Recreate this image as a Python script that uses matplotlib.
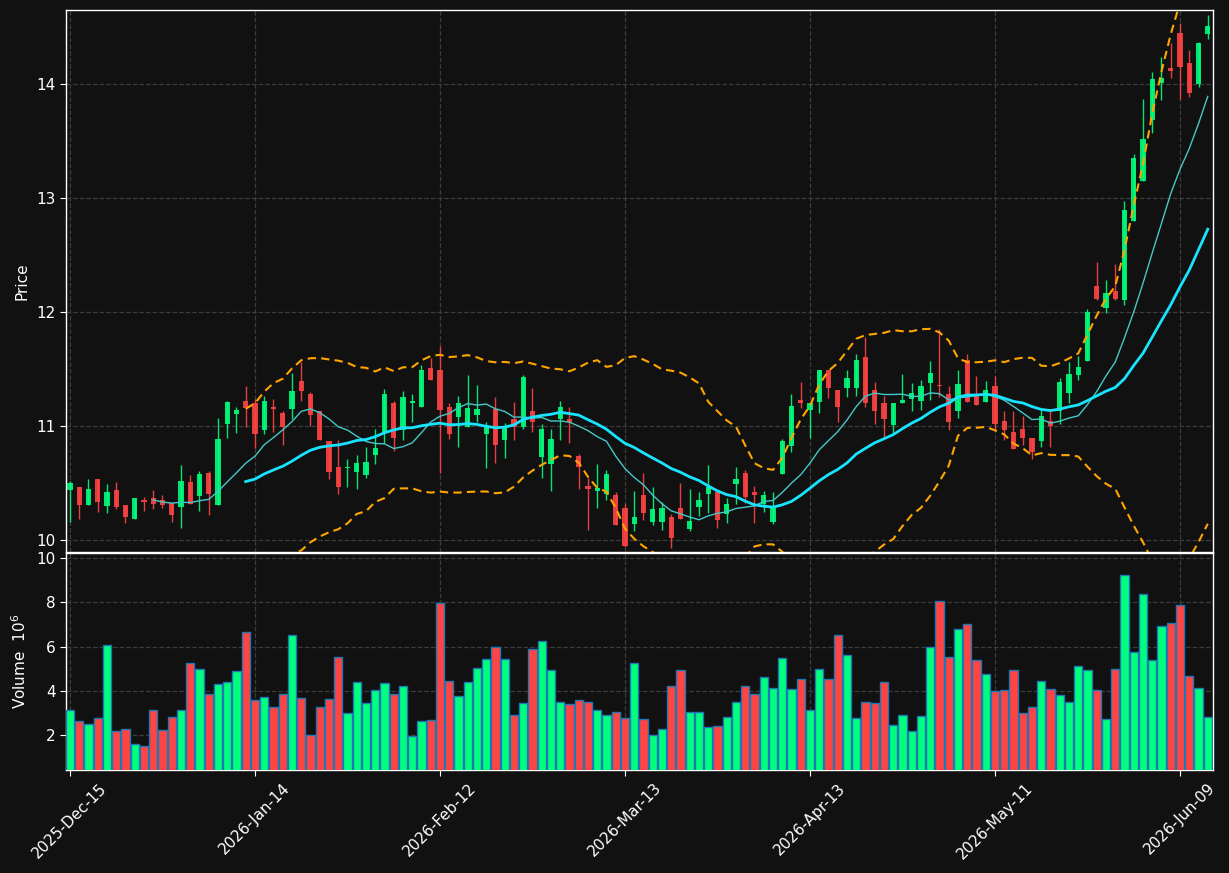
import numpy as np
import pandas as pd
import matplotlib
matplotlib.use('Agg')
import matplotlib.pyplot as plt

# trading days (NYSE holidays skipped)
holidays = ['2025-12-25', '2026-01-01', '2026-01-19', '2026-02-16', '2026-04-03', '2026-05-25']
dates = pd.bdate_range('2025-12-15', '2026-06-12', freq='C', holidays=holidays)

opens = [10.44, 10.47, 10.31, 10.54, 10.30, 10.44, 10.31, 10.19, 10.35, 10.37,
         10.35, 10.33, 10.29, 10.51, 10.39, 10.59, 10.31, 11.02, 11.11, 11.22,
         11.20, 10.97, 11.17, 11.12, 11.15, 11.40, 11.28, 11.13, 10.87, 10.64,
         10.63, 10.60, 10.57, 10.75, 10.95, 11.20, 10.97, 11.20, 11.17, 11.51,
         11.49, 11.17, 11.08, 10.99, 11.10, 10.93, 11.15, 10.88, 11.06, 10.99,
         11.13, 10.73, 10.67, 11.06, 11.06, 10.74, 10.48, 10.43, 10.41, 10.40,
         10.28, 10.14, 10.40, 10.16, 10.16, 10.20, 10.28, 10.10, 10.29, 10.41,
         10.42, 10.23, 10.49, 10.59, 10.42, 10.32, 10.16, 10.58, 10.83, 11.23,
         11.14, 11.21, 11.49, 11.32, 11.34, 11.34, 11.61, 11.32, 11.20, 11.01,
         11.20, 11.24, 11.22, 11.38, 11.36, 11.28, 11.13, 11.58, 11.27, 11.21,
         11.35, 11.05, 10.95, 10.98, 10.90, 10.87, 11.05, 11.13, 11.29, 11.45,
         11.57, 12.23, 12.04, 12.19, 12.11, 12.80, 13.15, 13.69, 14.01, 14.14,
         14.45, 14.19, 14.00, 14.44]
highs = [10.52, 10.47, 10.54, 10.54, 10.49, 10.51, 10.31, 10.37, 10.38, 10.44,
         10.40, 10.33, 10.66, 10.57, 10.61, 10.61, 11.07, 11.22, 11.17, 11.35,
         11.24, 11.27, 11.24, 11.13, 11.47, 11.56, 11.30, 11.13, 10.87, 10.88,
         10.71, 10.75, 10.82, 10.98, 11.33, 11.22, 11.31, 11.28, 11.54, 11.60,
         11.70, 11.20, 11.27, 11.45, 11.36, 11.04, 11.26, 11.03, 11.21, 11.45,
         11.34, 11.02, 10.98, 11.22, 11.17, 10.76, 10.55, 10.67, 10.62, 10.42,
         10.32, 10.43, 10.59, 10.47, 10.34, 10.23, 10.50, 10.45, 10.42, 10.66,
         10.42, 10.37, 10.64, 10.62, 10.48, 10.43, 10.42, 10.89, 11.28, 11.39,
         11.20, 11.49, 11.49, 11.32, 11.49, 11.63, 11.78, 11.39, 11.27, 11.20,
         11.46, 11.38, 11.41, 11.57, 11.85, 11.35, 11.49, 11.63, 11.44, 11.40,
         11.44, 11.13, 11.13, 11.09, 10.90, 11.15, 11.14, 11.42, 11.56, 11.62,
         12.03, 12.44, 12.28, 12.42, 12.98, 13.39, 13.87, 14.11, 14.24, 14.36,
         14.54, 14.30, 14.37, 14.61]
lows = [10.16, 10.19, 10.31, 10.25, 10.24, 10.27, 10.15, 10.19, 10.26, 10.27,
        10.28, 10.16, 10.11, 10.32, 10.26, 10.22, 10.31, 10.90, 10.94, 10.99,
        10.81, 10.93, 10.95, 10.84, 11.06, 11.22, 11.00, 10.88, 10.54, 10.41,
        10.47, 10.45, 10.55, 10.67, 10.85, 10.78, 10.88, 11.04, 11.17, 11.41,
        10.59, 10.89, 10.82, 10.99, 11.04, 10.63, 10.68, 10.72, 10.88, 10.98,
        10.95, 10.55, 10.43, 10.88, 10.85, 10.45, 10.09, 10.28, 10.35, 10.13,
        9.94, 10.08, 10.18, 10.13, 10.09, 9.93, 10.19, 10.08, 10.21, 10.24,
        10.11, 10.15, 10.32, 10.33, 10.15, 10.25, 10.14, 10.58, 10.77, 11.16,
        10.90, 11.12, 11.25, 11.04, 11.26, 11.27, 11.17, 11.02, 10.91, 10.94,
        11.20, 11.13, 11.14, 11.23, 11.26, 10.97, 11.07, 11.21, 11.19, 11.21,
        10.97, 10.88, 10.80, 10.84, 10.71, 10.82, 10.82, 11.02, 11.20, 11.41,
        11.57, 12.11, 11.99, 12.11, 12.06, 12.80, 13.15, 13.57, 13.86, 14.06,
        13.87, 13.89, 13.98, 14.40]
closes = [10.50, 10.31, 10.45, 10.34, 10.42, 10.29, 10.20, 10.37, 10.34, 10.32,
          10.31, 10.22, 10.52, 10.32, 10.58, 10.41, 10.89, 11.21, 11.14, 11.16,
          10.93, 11.22, 11.15, 10.99, 11.31, 11.31, 11.10, 10.88, 10.60, 10.47,
          10.64, 10.68, 10.69, 10.81, 11.28, 10.90, 11.26, 11.22, 11.49, 11.41,
          11.14, 10.93, 11.20, 11.16, 11.15, 10.99, 10.84, 10.99, 10.99, 11.43,
          11.04, 10.98, 10.89, 11.17, 11.04, 10.64, 10.45, 10.46, 10.58, 10.13,
          9.95, 10.20, 10.24, 10.27, 10.28, 10.02, 10.19, 10.17, 10.35, 10.47,
          10.18, 10.32, 10.54, 10.38, 10.40, 10.40, 10.28, 10.87, 11.18, 11.20,
          11.20, 11.49, 11.34, 11.17, 11.42, 11.58, 11.20, 11.13, 11.06, 11.20,
          11.23, 11.29, 11.35, 11.47, 11.35, 11.04, 11.37, 11.21, 11.19, 11.32,
          11.02, 10.97, 10.80, 10.90, 10.77, 11.09, 11.00, 11.39, 11.46, 11.52,
          12.00, 12.12, 12.17, 12.12, 12.90, 13.35, 13.52, 14.05, 14.06, 14.12,
          14.15, 13.92, 14.36, 14.51]
volumes = [3.11, 2.63, 2.49, 2.76, 6.09, 2.18, 2.27, 1.60, 1.51, 3.11,
           2.22, 2.81, 3.11, 5.24, 4.97, 3.84, 4.29, 4.38, 4.88, 6.67,
           3.57, 3.71, 3.26, 3.84, 6.54, 3.66, 2.00, 3.26, 3.62, 5.51,
           2.99, 4.38, 3.44, 4.02, 4.34, 3.84, 4.20, 1.96, 2.63, 2.67,
           7.98, 4.43, 3.75, 4.38, 5.01, 5.42, 5.96, 5.42, 2.90, 3.44,
           5.87, 6.27, 4.92, 3.48, 3.39, 3.57, 3.48, 3.12, 2.90, 3.03,
           2.76, 5.24, 2.72, 2.00, 2.27, 4.20, 4.92, 3.03, 3.03, 2.36,
           2.40, 2.81, 3.48, 4.20, 3.84, 4.61, 4.11, 5.46, 4.07, 4.52,
           3.12, 4.97, 4.52, 6.54, 5.60, 2.76, 3.48, 3.44, 4.38, 2.45,
           2.90, 2.18, 2.85, 5.96, 8.07, 5.51, 6.81, 7.03, 5.37, 4.74,
           3.98, 4.02, 4.92, 2.99, 3.26, 4.43, 4.07, 3.80, 3.48, 5.10,
           4.92, 4.02, 2.72, 4.97, 9.24, 5.73, 8.38, 5.37, 6.94, 7.08,
           7.89, 4.65, 4.11, 2.81]

o = np.array(opens); h = np.array(highs); l = np.array(lows); c = np.array(closes)
v = np.array(volumes)
x = np.arange(len(dates))

close_s = pd.Series(c)
ma10 = close_s.rolling(10).mean()
ma20 = close_s.rolling(20).mean()
sd20 = close_s.rolling(20).std()
bb_up = ma20 + 2 * sd20
bb_lo = ma20 - 2 * sd20

bg = '#111111'
up_col = '#00ff7f'
dn_col = '#ff4444'
up = c >= o
cols = np.where(up, up_col, dn_col)

fig = plt.figure(figsize=(12.29, 8.73), dpi=100, facecolor=bg)
ax1 = fig.add_axes([0.0537, 0.3677, 0.9333, 0.6208])
ax2 = fig.add_axes([0.0537, 0.118, 0.9333, 0.2486], sharex=ax1)

for ax in (ax1, ax2):
    ax.set_facecolor(bg)
    for sp in ax.spines.values():
        sp.set_color('white')
        sp.set_linewidth(1.0)
    ax.tick_params(colors='white', labelsize=11, length=4)
    ax.grid(True, color='#3c3c3c', linestyle='--', linewidth=0.9)
    ax.set_axisbelow(True)

# candles
ax1.vlines(x, l, h, colors=cols, linewidth=1.0, alpha=0.9, zorder=2)
body = np.maximum(np.abs(c - o), 0.008)
ax1.bar(x, body, bottom=np.minimum(o, c), width=0.55, color=cols, alpha=0.9,
        linewidth=0, zorder=3)

ax1.plot(x, ma10, color='#45c8c8', linewidth=1.0, zorder=4)
ax1.plot(x, ma20, color='#18e4ff', linewidth=2.0, zorder=4)
ax1.plot(x, bb_up, color='#ffa500', linewidth=1.5, linestyle=(0, (4, 2.5)), zorder=4)
ax1.plot(x, bb_lo, color='#ffa500', linewidth=1.5, linestyle=(0, (4, 2.5)), zorder=4)

ax1.set_ylim(9.897, 14.652)
ax1.set_yticks([10, 11, 12, 13, 14])
ax1.set_ylabel('Price', color='white', fontsize=11)
plt.setp(ax1.get_xticklabels(), visible=False)

# volume
ax2.bar(x, v, width=0.88, color=cols, edgecolor='#1f77b4', linewidth=1.0, zorder=3)
ax2.set_ylim(0.418, 10.23)
ax2.set_yticks([2, 4, 6, 8, 10])
ax2.set_ylabel('Volume  $10^{6}$', color='white', fontsize=11)

tick_idx = list(range(0, len(dates), 20))
ax2.set_xticks(tick_idx)
ax2.set_xticklabels([dates[i].strftime('%Y-%b-%d') for i in tick_idx], rotation=45)
ax1.set_xlim(-0.43, 123.57)

ax1.yaxis.set_label_coords(-0.032, 0.5)
ax2.yaxis.set_label_coords(-0.032, 0.5)

fig.savefig('out.png', dpi=100, facecolor=bg)
